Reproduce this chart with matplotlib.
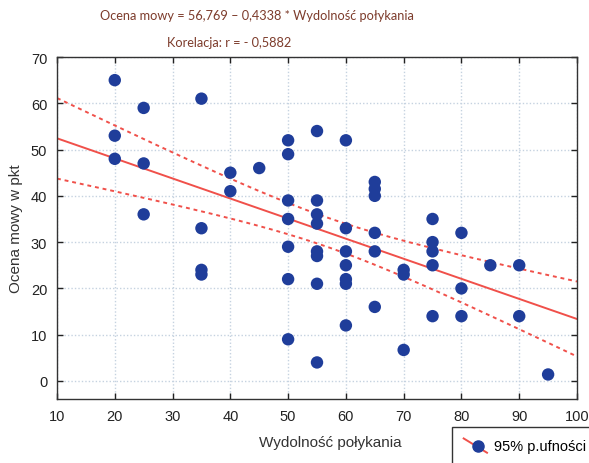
import matplotlib
matplotlib.use("Agg")
import matplotlib.pyplot as plt
import numpy as np
from matplotlib.lines import Line2D
from matplotlib.legend_handler import HandlerBase

# data
swallow = [20, 20, 20,
           25, 25, 25,
           35, 35, 35, 35,
           40, 40,
           45,
           50, 50, 50, 50, 50, 50, 50,
           55, 55, 55, 55, 55, 55, 55, 55,
           60, 60, 60, 60, 60, 60, 60,
           65, 65, 65, 65, 65, 65,
           70, 70, 70,
           75, 75, 75, 75, 75,
           80, 80, 80,
           85,
           90, 90,
           95]
speech = [65, 53, 48,
          59, 47, 36,
          61, 33, 24, 23,
          45, 41,
          46,
          52, 49, 39, 35, 29, 22, 9,
          54, 39, 36, 34, 28, 27, 21, 4,
          52, 33, 28, 25, 22, 21, 12,
          43, 41.5, 40, 32, 28, 16,
          24, 23, 6.7,
          35, 30, 28, 25, 14,
          32, 20, 14,
          25,
          25, 14,
          1.4]

intercept = 56.769
slope = -0.4338
t_crit = 2.005  # t(0.975, n-2)

title1 = "Ocena mowy = 56,769 \u2013 0,4338 * Wydolno\u015b\u0107 po\u0142ykania"
title2 = "Korelacja: r = - 0,5882"
xticks = [10, 20, 30, 40, 50, 60, 70, 80, 90, 100]
yticks = [0, 10, 20, 30, 40, 50, 60, 70]

red = "#f0504a"
blue = "#1f3d9a"
brown = "#7d3c2c"

x = np.array(swallow, dtype=float)
y = np.array(speech, dtype=float)
n = len(x)
resid = y - (intercept + slope * x)
s = np.sqrt(np.sum(resid ** 2) / (n - 2))
sxx = np.sum((x - x.mean()) ** 2)

xs = np.linspace(10, 100, 200)
fit = intercept + slope * xs
hw = t_crit * s * np.sqrt(1.0 / n + (xs - x.mean()) ** 2 / sxx)

plt.rcParams['font.family'] = ['Liberation Sans', 'DejaVu Sans']

fig = plt.figure(figsize=(5.89, 4.64), dpi=100)
ax = fig.add_axes([57 / 589, 1 - 400 / 464, 520 / 589, 342 / 464])

ax.grid(True, color="#c5d2e0", linestyle=(0, (1, 1.5)), linewidth=1)
ax.set_axisbelow(True)
ax.plot(xs, fit, color=red, lw=1.4, zorder=2)
ax.plot(xs, fit + hw, color=red, lw=1.4, linestyle=(0, (2, 2)), zorder=2)
ax.plot(xs, fit - hw, color=red, lw=1.4, linestyle=(0, (2, 2)), zorder=2)
ax.scatter(x, y, s=80, color=blue, edgecolors="none", zorder=3)

ax.set_xlim(10, 100)
ax.set_ylim(-3.9, 70)
ax.set_xticks(xticks)
ax.set_yticks(yticks)
ax.tick_params(direction="in", length=4, width=1, top=True, right=True,
               labelsize=10.5, colors="#222222", pad=7)
for sp in ax.spines.values():
    sp.set_color("#333333")
    sp.set_linewidth(1)

ax.set_xlabel("Wydolno\u015b\u0107 po\u0142ykania", fontsize=11, color="#333333")
ax.xaxis.set_label_coords(0.525, -0.105)
ax.set_ylabel("Ocena mowy w pkt", fontsize=11, color="#333333", labelpad=6)

fig.text(257 / 589, 1 - 16 / 464, title1, ha="center", va="center",
         fontsize=9.2, color=brown, family=["Lato", "DejaVu Sans"])
fig.text(229 / 589, 1 - 43 / 464, title2, ha="center", va="center",
         fontsize=9.2, color=brown, family=["Lato", "DejaVu Sans"])


class DiagHandler(HandlerBase):
    def create_artists(self, legend, orig_handle, xdescent, ydescent,
                       width, height, fontsize, trans):
        x0, x1 = -xdescent, -xdescent + width
        y0, y1 = -ydescent + height * 1.1, -ydescent - height * 0.3
        ln = Line2D([x0, x1], [y0, y1], color=red, lw=1.4, transform=trans)
        dot = Line2D([(x0 + x1) / 2 + 2], [(y0 + y1) / 2], marker="o", ms=8,
                     color=blue, linestyle="none", transform=trans)
        return [ln, dot]


handle = Line2D([], [], color=red)
leg = fig.legend([handle], ["95% p.ufno\u015bci"], handler_map={Line2D: DiagHandler()},
                 loc="upper left", bbox_to_anchor=(452 / 589, 1 - 428 / 464),
                 borderaxespad=0, fancybox=False, framealpha=1, edgecolor="#333333",
                 fontsize=10.5, handlelength=1.6, handletextpad=0.5, borderpad=0.8)
leg.get_frame().set_linewidth(1)

fig.savefig("out.png", dpi=100)
